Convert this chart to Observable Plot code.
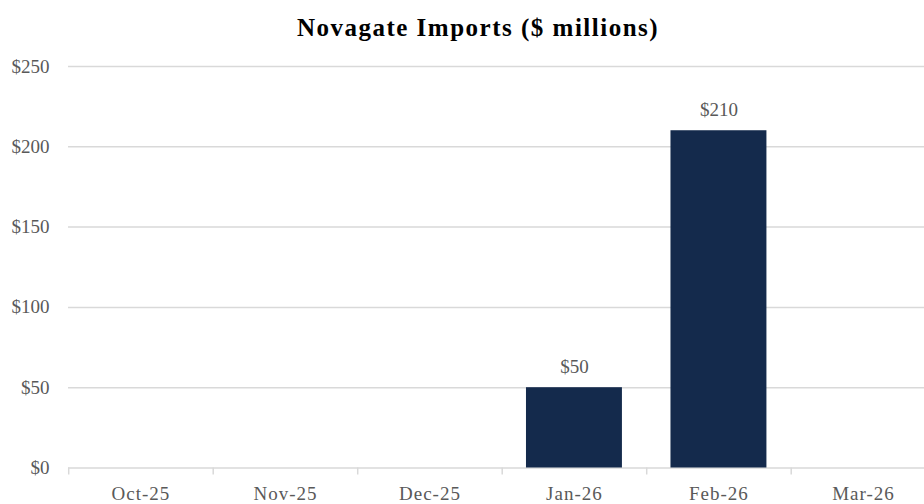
<!DOCTYPE html>
<html>
<head>
<meta charset="utf-8">
<script src="https://cdn.jsdelivr.net/npm/d3@7"></script>
<script src="https://cdn.jsdelivr.net/npm/@observablehq/plot@0.6"></script>
<style>
  body { margin: 0; background: #fff; }
  #chart svg { font-family: "Liberation Serif", "DejaVu Serif", serif; }
</style>
</head>
<body>
<div id="chart"></div>
<script>
const months = ["Oct-25", "Nov-25", "Dec-25", "Jan-26", "Feb-26", "Mar-26"];
const imports = [0, 0, 0, 50, 210, 0];
const yTicks = [0, 50, 100, 150, 200, 250];
const title = "Novagate Imports ($ millions)";

const data = months.map((m, i) => ({month: m, value: imports[i]}));
const labeled = data.filter(d => d.value > 0);

const pad = 0.336;
const step = 144.5;
const r0 = 68.2 - step * pad / 2;
const r1 = r0 + step * (months.length + pad);

const chart = Plot.plot({
  width: 924,
  height: 504,
  marginLeft: 68,
  marginRight: 0,
  marginTop: 66,
  marginBottom: 36.5,
  style: {fontFamily: "Liberation Serif, serif", background: "#fff"},
  x: {domain: months, range: [r0, r1], padding: pad, round: false, label: null},
  y: {domain: [0, 250], label: null},
  marks: [
    Plot.ruleY(yTicks, {stroke: "#d9d9d9", strokeWidth: 1.5}),
    Plot.barY(data, {x: "month", y: "value", fill: "#142a4c"}),
    Plot.text(labeled, {x: "month", y: "value", text: d => "$" + d.value, dy: -21, fill: "#595959", fontSize: 19}),
    Plot.axisY({ticks: yTicks, tickFormat: d => "$" + d, tickSize: 0, tickPadding: 19, fontSize: 19, color: "#595959", label: null}),
    Plot.axisX({tickSize: 7, tickFormat: () => "", dx: -step / 2, stroke: "#d9d9d9", strokeWidth: 1.5, label: null}),
    Plot.axisX({tickSize: 0, tickPadding: 18, fontSize: 19, color: "#595959", label: null}),
    Plot.text([title], {frameAnchor: "top", lineAnchor: "middle", dy: -39, dx: -18.5, fontSize: 25, fontWeight: "bold", fill: "#000"})
  ]
});
d3.select(chart).selectAll("text").each(function() {
  const t = this.textContent;
  if (t === title) this.style.letterSpacing = "1.5px";
  else if (months.includes(t)) this.style.letterSpacing = "1px";
});
document.getElementById("chart").appendChild(chart);
</script>
</body>
</html>
